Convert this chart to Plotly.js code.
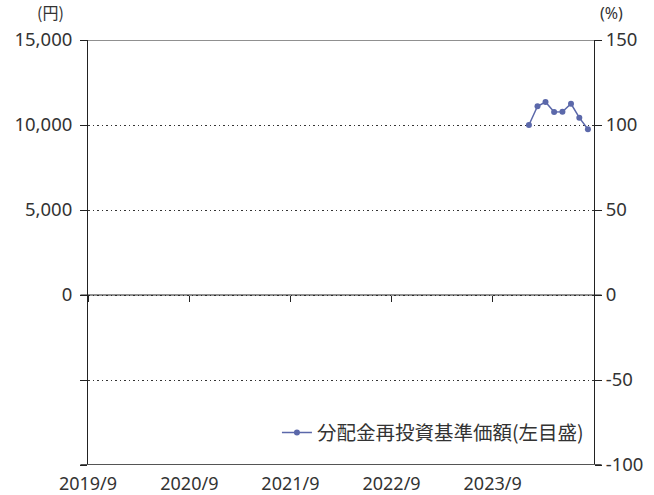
<!DOCTYPE html>
<html>
<head>
<meta charset="utf-8">
<script src="https://cdn.plot.ly/plotly-3.0.1.min.js"></script>
<style>html,body{margin:0;padding:0;background:#fff;}#chart{width:654px;height:495px;}</style>
</head>
<body>
<div id="chart"></div>
<script>
// Data
const dates = ['2024-01-10','2024-02-10','2024-03-10','2024-04-10','2024-05-10','2024-06-10','2024-07-10','2024-08-10'];
const navValues = [10000, 11100, 11350, 10760, 10780, 11250, 10430, 9750];
const seriesName = '分配金再投資基準価額(左目盛)';
const xTickVals = ['2019-09-01','2020-09-01','2021-09-01','2022-09-01','2023-09-01'];
const xTickText = ['2019/9','2020/9','2021/9','2022/9','2023/9'];
const leftTickVals = [-10000,-5000,0,5000,10000,15000];
const leftTickText = ['','','0','5,000','10,000','15,000'];
const rightTickVals = [-100,-50,0,50,100,150];
const rightTickText = ['-100','-50','0','50','100','150'];

const FONT = '"Noto Sans", "Noto Sans CJK JP", sans-serif';
const TXT = '#333333';
const AX = '#222222';
const xRange = ['2019-09-01','2024-09-01'];

const trace = {
  x: dates, y: navValues, type: 'scatter', mode: 'lines+markers',
  name: seriesName,
  line: {color: '#5b68aa', width: 1.5},
  marker: {color: '#5b68aa', size: 6},
  xaxis: 'x', yaxis: 'y'
};
const dummy = {x: [xRange[0]], y: [0], xaxis: 'x', yaxis: 'y2', mode: 'markers',
  marker: {opacity: 0}, showlegend: false, hoverinfo: 'skip'};
const dummy2 = {x: [xRange[0]], y: [0], xaxis: 'x2', yaxis: 'y', mode: 'markers',
  marker: {opacity: 0}, showlegend: false, hoverinfo: 'skip'};

const layout = {
  width: 654, height: 495,
  margin: {l: 88, r: 60, t: 40, b: 30},
  paper_bgcolor: '#fff', plot_bgcolor: '#fff',
  font: {family: FONT, size: 18, color: TXT},
  showlegend: true,
  legend: {x: 0.99, y: 0.03, xanchor: 'right', yanchor: 'bottom', bgcolor: 'rgba(0,0,0,0)',
           font: {family: '"Noto Sans CJK JP", sans-serif', size: 19.5, color: TXT}, itemwidth: 30},
  xaxis: {
    type: 'date', range: xRange, tickvals: xTickVals, ticktext: xTickText,
    showgrid: false, zeroline: false, showline: false, ticks: '', ticklabelstandoff: 6,
    tickfont: {size: 18, color: TXT}
  },
  xaxis2: {
    type: 'date', range: xRange, overlaying: 'x', anchor: 'free', position: 0.4,
    tickvals: xTickVals, showticklabels: false, ticks: 'outside', ticklen: 6,
    tickcolor: AX, tickwidth: 1.2, showgrid: false, zeroline: false, showline: false
  },
  yaxis: {
    range: [-10000, 15000], tickvals: leftTickVals, ticktext: leftTickText,
    showgrid: false, zeroline: false, showline: true, linecolor: AX, linewidth: 1,
    ticks: 'outside', ticklen: 7, tickcolor: AX, ticklabelstandoff: 4,
    tickfont: {size: 18.5, color: TXT}
  },
  yaxis2: {
    range: [-100, 150], tickvals: rightTickVals, ticktext: rightTickText, overlaying: 'y', side: 'right',
    showgrid: true, gridcolor: '#333', griddash: '1.5px,3px', gridwidth: 1,
    zeroline: false, showline: true, linecolor: AX, linewidth: 1,
    ticks: 'outside', ticklen: 7, tickcolor: AX,
    tickfont: {size: 18.5, color: TXT}
  },
  shapes: [
    {type: 'line', xref: 'paper', yref: 'y', x0: -0.015, x1: 1.015, y0: 15000, y1: 15000, line: {color: AX, width: 1}, layer: 'above'},
    {type: 'line', xref: 'paper', yref: 'y', x0: -0.015, x1: 1.015, y0: 0, y1: 0, line: {color: AX, width: 1}, layer: 'above'},
    {type: 'line', xref: 'paper', yref: 'y', x0: -0.015, x1: 1.015, y0: -10000, y1: -10000, line: {color: '#555', width: 2}, layer: 'above'}
  ],
  annotations: [
    {text: '(円)', xref: 'paper', yref: 'paper', x: -0.075, y: 1.0, yshift: 14, xanchor: 'center', yanchor: 'bottom', showarrow: false, font: {family: '"Noto Sans CJK JP", sans-serif', size: 16, color: TXT}},
    {text: '(%)', xref: 'paper', yref: 'paper', x: 1.035, y: 1.0, yshift: 14, xanchor: 'center', yanchor: 'bottom', showarrow: false, font: {size: 16, color: TXT}}
  ]
};

Plotly.newPlot('chart', [trace, dummy, dummy2], layout, {staticPlot: true});
</script>
</body>
</html>
